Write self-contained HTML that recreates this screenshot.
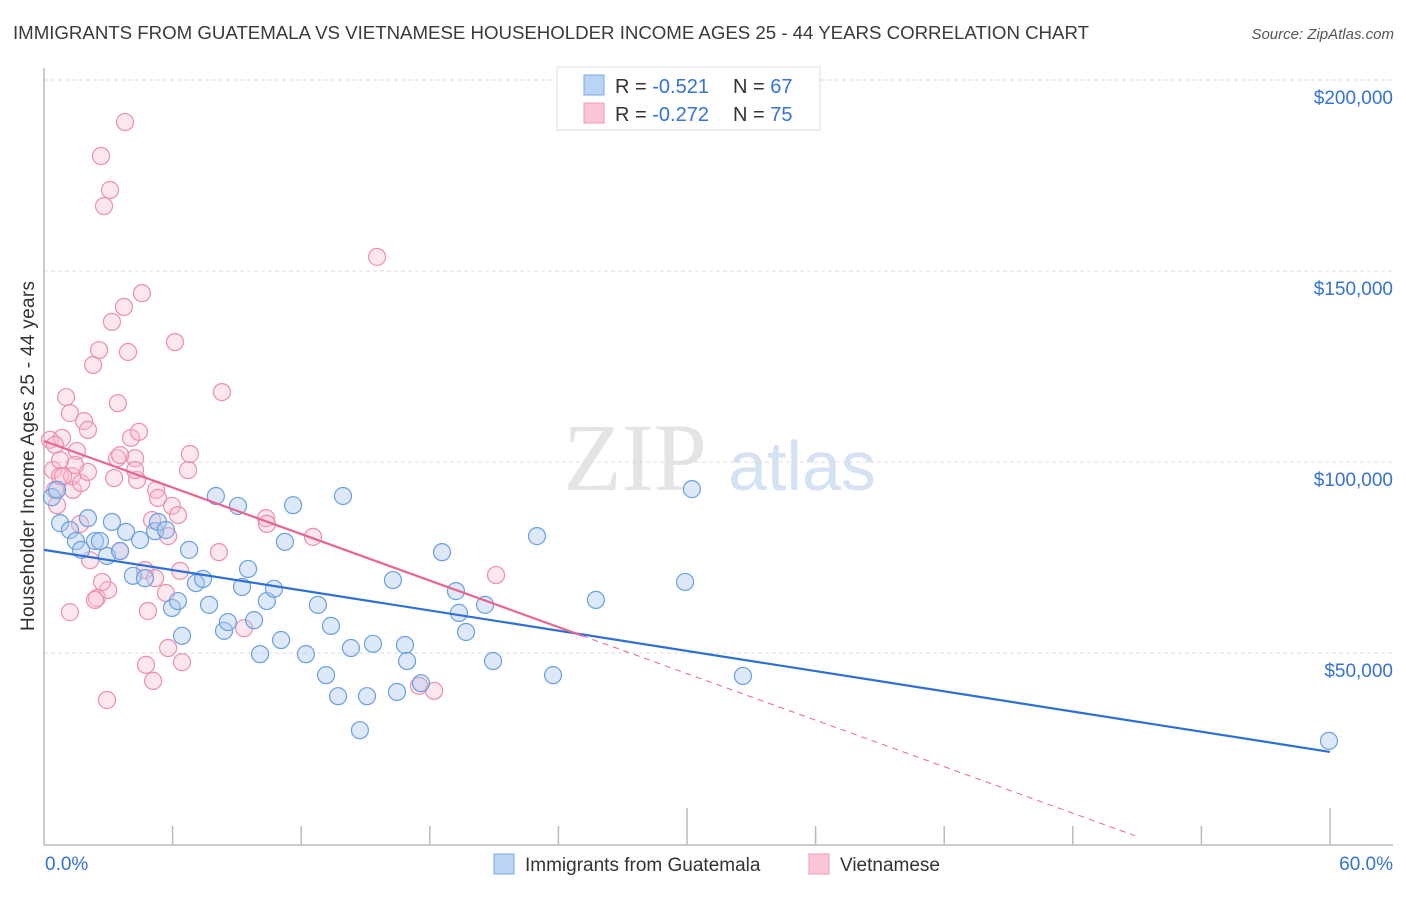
<!DOCTYPE html>
<html><head><meta charset="utf-8"><style>
body{margin:0;background:#fff;font-family:"Liberation Sans",sans-serif;}
svg text{font-family:"Liberation Sans",sans-serif;}
</style></head><body>
<svg id="c" width="1406" height="892" xmlns="http://www.w3.org/2000/svg">
<text x="13" y="39" font-size="18.7" fill="#3a3a3a" textLength="1076">IMMIGRANTS FROM GUATEMALA VS VIETNAMESE HOUSEHOLDER INCOME AGES 25 - 44 YEARS CORRELATION CHART</text>
<text x="1394" y="39" font-size="15" fill="#555" text-anchor="end" font-style="italic">Source: ZipAtlas.com</text>
<g>
<text x="635" y="490" font-size="96" fill="#e4e4e4" text-anchor="middle" font-family="Liberation Serif, serif" style="font-family:'Liberation Serif',serif">ZIP</text>
<text x="802" y="490" font-size="70" fill="#d4e2f3" text-anchor="middle">atlas</text>
</g>
<g id="grid"></g>
<g id="axes"></g>
<text transform="translate(34,456) rotate(-90)" font-size="19" fill="#333" text-anchor="middle" textLength="350">Householder Income Ages 25 - 44 years</text>
<g id="pts"></g>
<g id="lines"></g>
<g>
<rect x="557" y="67" width="263" height="63" fill="#fff" stroke="#ddd"/>
<rect x="584" y="75" width="20" height="20" fill="#b9d4f5" stroke="#7aaae6"/>
<rect x="584" y="103" width="20" height="20" fill="#fbc7d6" stroke="#ee9ab4"/>
<text x="615" y="93" font-size="20" fill="#333">R = <tspan fill="#3572d6">-0.521</tspan><tspan x="733">N = </tspan><tspan fill="#3572d6">67</tspan></text>
<text x="615" y="121" font-size="20" fill="#333">R = <tspan fill="#3572d6">-0.272</tspan><tspan x="733">N = </tspan><tspan fill="#3572d6">75</tspan></text>
</g>
<g>
<rect x="494" y="854" width="20" height="20" fill="#b9d4f5" stroke="#7aaae6"/>
<text x="525" y="871" font-size="19" fill="#333">Immigrants from Guatemala</text>
<rect x="809" y="854" width="20" height="20" fill="#fbc7d6" stroke="#ee9ab4"/>
<text x="840" y="871" font-size="19" fill="#333">Vietnamese</text>
</g>
</svg>
<script>
const yTicks=[50000,100000,150000,200000];
const yTickLabels=["$50,000","$100,000","$150,000","$200,000"];
const xTickLabels=["0.0%","60.0%"];
const blueX=[0.37,0.61,0.75,1.21,1.49,1.73,2.05,2.38,2.61,2.94,3.17,3.55,3.83,4.15,4.48,4.71,5.18,5.32,5.69,5.97,6.25,6.44,6.77,7.09,7.42,7.70,8.02,8.40,8.58,9.05,9.24,9.52,9.80,10.08,10.40,10.73,11.06,11.24,11.62,12.22,12.78,13.16,13.39,13.72,13.95,14.32,15.07,15.35,14.74,16.28,16.47,16.84,16.94,17.59,18.57,19.22,19.36,19.69,20.58,20.95,23.00,23.75,25.75,29.91,30.23,32.61,59.95];
const blueY=[90.8,92.7,84.0,82.2,79.3,77.0,85.3,79.3,79.3,75.4,84.3,76.7,81.7,70.2,79.6,69.6,81.9,84.3,82.2,61.8,63.6,54.5,77.0,68.3,69.4,62.6,91.1,55.8,58.1,88.5,67.3,72.0,58.6,49.7,63.6,66.8,53.4,79.1,88.7,49.7,62.6,44.2,57.1,38.7,91.1,51.3,38.7,52.4,29.8,69.1,39.8,52.1,47.9,42.1,76.4,66.2,60.5,55.5,62.6,47.9,80.6,44.2,63.9,68.6,92.9,44.0,27.0];
const pinkX=[0.28,0.42,0.51,0.61,0.75,0.84,1.03,1.21,1.35,1.31,1.54,1.68,1.87,2.05,2.15,2.29,2.47,2.57,2.66,2.80,2.99,3.08,3.17,3.27,3.41,3.45,3.55,3.73,3.78,3.92,4.06,4.25,4.34,4.43,4.57,4.71,4.85,5.04,5.18,5.23,5.32,5.69,5.79,5.79,5.97,6.11,6.25,6.35,6.44,6.72,6.81,8.16,8.30,9.33,10.36,10.40,12.55,15.54,17.50,18.20,21.09,2.94,5.09,4.76,1.21,1.73,0.51,0.89,2.05,2.38,0.75,1.45,3.55,2.71,4.25];
const pinkY=[105.8,97.9,92.7,88.7,96.3,106.3,117.0,112.8,92.7,96.3,102.9,83.8,110.7,108.4,74.3,125.4,64.4,129.3,180.1,167.0,66.5,171.2,136.7,95.8,101.0,115.4,76.7,140.6,189.0,128.8,106.3,101.0,95.3,107.9,144.2,71.7,61.0,84.8,69.6,92.7,90.6,65.7,51.3,80.6,88.5,131.4,86.1,71.5,47.6,97.9,102.1,76.4,118.3,56.5,85.3,83.8,80.4,153.7,41.4,40.1,70.4,37.7,42.7,46.9,60.7,94.5,104.5,96.3,97.4,63.9,100.5,99.2,101.8,68.6,97.9];
const blueTrend=[77.0,24.1];      // value at 0%, 60% (k$)
const pinkTrend=[105.5,-2.03];    // intercept k$, slope per %
const pinkSolidEnd=25.1, pinkDashEnd=50.9;

const NS="http://www.w3.org/2000/svg";
const X0=44,X1=1330,Y0=844,PPK=191/50;
function sx(p){return X0+(X1-X0)*p/60;}
function sy(k){return Y0-k*PPK;}
function mk(t,a,p){const e=document.createElementNS(NS,t);for(const k in a)e.setAttribute(k,a[k]);p.appendChild(e);return e;}
const grid=document.getElementById('grid'),axes=document.getElementById('axes'),pts=document.getElementById('pts'),lines=document.getElementById('lines');
yTicks.forEach((v,i)=>{
 const y=sy(v/1000);
 const g=mk('line',{x1:X0,x2:1393,y1:y,y2:y,stroke:'#ddd','stroke-dasharray':'4 3'},grid);
 
 
 const t=mk('text',{x:1393,y:y+24,'font-size':19,fill:'#3572d6','text-anchor':'end'},grid);
 t.textContent=yTickLabels[i];
 
 
});
const ax=mk('path',{d:`M${X0} 68V845H1393`,fill:'none',stroke:'#bbb','stroke-width':1.5},axes);


for(let i=1;i<=10;i++){
 const x=sx(i*6);const top=(i==5||i==10)?808:826;
 const tk=mk('line',{x1:x,x2:x,y1:top,y2:845,stroke:'#bbb','stroke-width':1.5},axes);
 
 
}
[[0,45,'start'],[1,1393,'end']].forEach(([i,x,a])=>{
 const t=mk('text',{x:x,y:870,'font-size':19,fill:'#3572d6','text-anchor':a},axes);
 t.textContent=xTickLabels[i];
 
 
});
pinkX.forEach((x,i)=>{
 const c=mk('circle',{cx:sx(x),cy:sy(pinkY[i]),r:8.5,fill:'rgba(248,185,206,0.35)',stroke:'#eb8fae','stroke-width':1.2},pts);
 
 
});
blueX.forEach((x,i)=>{
 const c=mk('circle',{cx:sx(x),cy:sy(blueY[i]),r:8.5,fill:'rgba(170,200,240,0.4)',stroke:'#6a9fe0','stroke-width':1.2},pts);
 
 
});
const bl=mk('line',{x1:sx(0),y1:sy(blueTrend[0]),x2:sx(60),y2:sy(blueTrend[1]),stroke:'#2d6fd8','stroke-width':2.2},lines);


const pf=p=>pinkTrend[0]+pinkTrend[1]*p;
const pl=mk('line',{x1:sx(0),y1:sy(pf(0)),x2:sx(pinkSolidEnd),y2:sy(pf(pinkSolidEnd)),stroke:'#e8658f','stroke-width':2.2},lines);


const pd=mk('line',{x1:sx(pinkSolidEnd),y1:sy(pf(pinkSolidEnd)),x2:sx(pinkDashEnd),y2:sy(pf(pinkDashEnd)),stroke:'#e8658f','stroke-width':1,'stroke-dasharray':'6 5'},lines);


</script>
</body></html>
